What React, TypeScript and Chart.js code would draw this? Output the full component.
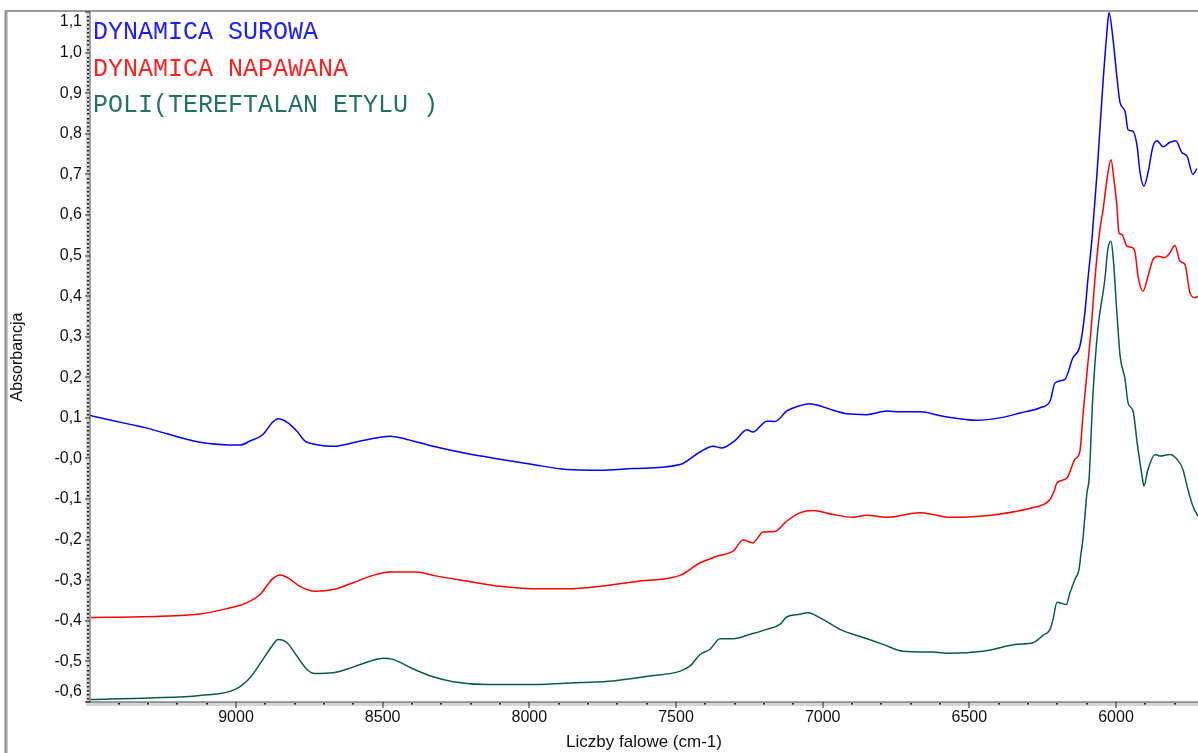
import React, { useEffect, useRef } from 'react';
import { Chart, registerables } from 'chart.js';

Chart.register(...registerables);

// Absorbance spectra (wavenumber cm-1, absorbance)
const surowa: [number, number][] = [
  [9498, 0.106], [9361, 0.084], [9310, 0.076], [9123, 0.040], [8986, 0.033],
  [8952, 0.043], [8908, 0.059], [8877, 0.088], [8857, 0.098], [8823, 0.088],
  [8792, 0.067], [8765, 0.043], [8724, 0.034], [8669, 0.030], [8611, 0.037],
  [8543, 0.048], [8475, 0.055], [8417, 0.047], [8328, 0.030], [8213, 0.012],
  [8100, -0.002], [7988, -0.015], [7872, -0.027], [7759, -0.029], [7647, -0.025],
  [7486, -0.015], [7418, 0.016], [7374, 0.030], [7343, 0.026], [7299, 0.044],
  [7258, 0.071], [7238, 0.065], [7190, 0.092], [7163, 0.091], [7122, 0.117],
  [7078, 0.130], [7044, 0.135], [7010, 0.130], [6965, 0.119], [6917, 0.110],
  [6849, 0.108], [6781, 0.117], [6736, 0.115], [6668, 0.115], [6590, 0.104],
  [6474, 0.094], [6396, 0.100], [6327, 0.112], [6259, 0.125], [6225, 0.141],
  [6208, 0.186], [6174, 0.195], [6147, 0.248], [6123, 0.277], [6106, 0.36],
  [6096, 0.44], [6082, 0.54], [6065, 0.70], [6055, 0.81], [6044, 0.93],
  [6031, 1.05], [6024, 1.098], [6010, 1.032], [5997, 0.94], [5986, 0.876],
  [5969, 0.855], [5959, 0.81], [5942, 0.806], [5928, 0.769], [5918, 0.704],
  [5905, 0.671], [5891, 0.704], [5874, 0.769], [5860, 0.783], [5840, 0.768],
  [5816, 0.779], [5796, 0.783], [5775, 0.753], [5758, 0.745], [5738, 0.70],
  [5724, 0.714],
];

const napawana: [number, number][] = [
  [9495, -0.392], [9327, -0.390], [9123, -0.383], [9031, -0.370], [8962, -0.355],
  [8918, -0.335], [8877, -0.298], [8850, -0.287], [8823, -0.294], [8782, -0.315],
  [8731, -0.327], [8669, -0.323], [8601, -0.306], [8533, -0.288], [8475, -0.280],
  [8383, -0.280], [8328, -0.288], [8213, -0.302], [8100, -0.315], [7988, -0.321],
  [7872, -0.321], [7759, -0.315], [7623, -0.302], [7486, -0.288], [7418, -0.257],
  [7360, -0.241], [7305, -0.228], [7271, -0.201], [7238, -0.208], [7203, -0.181],
  [7163, -0.180], [7122, -0.154], [7078, -0.134], [7033, -0.128], [6965, -0.138],
  [6897, -0.145], [6849, -0.140], [6781, -0.145], [6668, -0.134], [6624, -0.138],
  [6566, -0.145], [6454, -0.142], [6338, -0.130], [6283, -0.121], [6225, -0.101],
  [6211, -0.080], [6201, -0.060], [6167, -0.048], [6140, -0.002], [6123, 0.018],
  [6113, 0.104], [6099, 0.211], [6085, 0.318], [6072, 0.441], [6055, 0.564],
  [6044, 0.613], [6031, 0.687], [6017, 0.736], [6007, 0.687], [5997, 0.622],
  [5990, 0.556], [5980, 0.552], [5963, 0.523], [5946, 0.520], [5935, 0.507],
  [5925, 0.449], [5908, 0.412], [5891, 0.449], [5874, 0.490], [5857, 0.498],
  [5833, 0.495], [5816, 0.507], [5799, 0.525], [5782, 0.486], [5765, 0.478],
  [5748, 0.408], [5731, 0.396], [5721, 0.400],
];

const poliTereftalan: [number, number][] = [
  [9495, -0.594], [9293, -0.590], [9123, -0.584], [9003, -0.569], [8952, -0.540],
  [8908, -0.495], [8877, -0.462], [8857, -0.446], [8826, -0.454], [8792, -0.487],
  [8758, -0.520], [8731, -0.530], [8669, -0.528], [8601, -0.514], [8533, -0.497],
  [8499, -0.492], [8465, -0.495], [8397, -0.518], [8328, -0.538], [8260, -0.550],
  [8144, -0.557], [7988, -0.557], [7827, -0.552], [7715, -0.548], [7589, -0.536],
  [7486, -0.524], [7452, -0.511], [7418, -0.483], [7384, -0.470], [7350, -0.444],
  [7305, -0.444], [7247, -0.433], [7190, -0.421], [7146, -0.409], [7122, -0.390],
  [7078, -0.384], [7051, -0.380], [7010, -0.392], [6941, -0.421], [6849, -0.444],
  [6794, -0.458], [6726, -0.475], [6624, -0.477], [6566, -0.480], [6454, -0.475],
  [6338, -0.458], [6283, -0.454], [6249, -0.436], [6225, -0.421], [6215, -0.397],
  [6201, -0.354], [6184, -0.357], [6170, -0.360], [6157, -0.331], [6140, -0.298],
  [6126, -0.273], [6119, -0.232], [6113, -0.200], [6106, -0.142], [6099, -0.084],
  [6092, -0.052], [6079, 0.153], [6062, 0.318], [6038, 0.441], [6028, 0.515],
  [6017, 0.535], [6010, 0.498], [5997, 0.359], [5986, 0.252], [5969, 0.195],
  [5959, 0.137], [5942, 0.117], [5928, 0.039], [5911, -0.044], [5905, -0.068],
  [5891, -0.027], [5867, 0.010], [5850, 0.006], [5816, 0.010], [5792, -0.002],
  [5772, -0.027], [5755, -0.076], [5738, -0.117], [5721, -0.142],
];

const seriesNames = ['DYNAMICA SUROWA', 'DYNAMICA NAPAWANA', 'POLI(TEREFTALAN ETYLU )'];
const lineColors = ['#0000ff', '#ff0000', '#0b5a4c'];
const legendColors = ['#2020ff', '#ff2222', '#237264'];

const xTickValues = [9000, 8500, 8000, 7500, 7000, 6500, 6000];
const xTickLabels = ['9000', '8500', '8000', '7500', '7000', '6500', '6000'];
const yTickValues = [-0.6, -0.5, -0.4, -0.3, -0.2, -0.1, 0, 0.1, 0.2, 0.3, 0.4, 0.5, 0.6, 0.7, 0.8, 0.9, 1.0, 1.1];
const yTickLabels = ['-0,6', '-0,5', '-0,4', '-0,3', '-0,2', '-0,1', '-0,0', '0,1', '0,2', '0,3', '0,4', '0,5', '0,6', '0,7', '0,8', '0,9', '1,0', '1,1'];

const xRange = { min: 5720.5, max: 9497.7 };
const yRange = { min: -0.6, max: 1.1 };

const xTitle = 'Liczby falowe (cm-1)';
const yTitle = 'Absorbancja';

// Frame, axis bands, tick marks, y labels and the text legend
const decorPlugin = {
  id: 'spectrumDecor',
  afterDraw(chart: any) {
    const { ctx, chartArea } = chart;
    const { left, right, top, bottom } = chartArea;
    const xs = chart.scales.x;
    const ys = chart.scales.y;
    ctx.save();

    // outer frame
    ctx.fillStyle = '#c9c9c9';
    ctx.fillRect(4, 10, 4, 753 - 10);
    ctx.fillStyle = '#8a8a8a';
    ctx.fillRect(5, 10, 1.5, 753 - 10);
    ctx.fillStyle = '#9a9a9a';
    ctx.fillRect(5, 10, right - 5, 2);

    // axis bands
    ctx.fillStyle = '#d6d6d6';
    ctx.fillRect(left - 4, top, 4, bottom - top + 4);
    ctx.fillRect(left - 4, bottom, right - left + 4, 4);

    // axis lines
    ctx.fillStyle = '#4a4a4a';
    ctx.fillRect(left - 0.5, top, 1, bottom - top + 1);
    ctx.fillRect(left - 4, bottom - 0.5, right - left + 4, 1);

    // y minor dots every 0.01
    ctx.fillStyle = '#222';
    for (let i = -60; i <= 110; i++) {
      const py = Math.round(ys.getPixelForValue(i / 100));
      if (i % 10 === 0) {
        ctx.fillRect(left - 5, py - 0.5, 5, 1);
      } else {
        ctx.fillRect(left - 3, py, 2, 1.5);
      }
    }
    // x minor dots every 100
    for (let w = 5800; w <= 9400; w += 100) {
      const px = Math.round(xs.getPixelForValue(w));
      if (w % 500 === 0) {
        ctx.fillRect(px - 0.5, bottom, 1, 6);
      } else {
        ctx.fillRect(px - 1, bottom + 1, 2, 1.5);
      }
    }

    // y tick labels, kept inside the axis span
    ctx.font = '16px "Liberation Sans", Arial, sans-serif';
    ctx.fillStyle = '#111';
    ctx.textAlign = 'right';
    ctx.textBaseline = 'middle';
    yTickValues.forEach((v, i) => {
      const py = ys.getPixelForValue(v);
      const cy = Math.min(Math.max(py, top + 10), bottom - 10);
      ctx.fillText(yTickLabels[i], left - 8, cy);
    });

    // legend as coloured text
    ctx.font = '25px "Liberation Mono", "Courier New", monospace';
    ctx.textAlign = 'left';
    ctx.textBaseline = 'alphabetic';
    const baselines = [39, 76, 112];
    seriesNames.forEach((name, i) => {
      ctx.fillStyle = legendColors[i];
      ctx.fillText(name, left + 3, baselines[i]);
    });

    ctx.restore();
  },
};

export default function App() {
  const canvasRef = useRef<HTMLCanvasElement | null>(null);

  useEffect(() => {
    const canvas = canvasRef.current;
    if (!canvas) return;
    const toPoints = (s: [number, number][]) => s.map(([x, y]) => ({ x, y }));
    const chart = new Chart(canvas, {
      type: 'line',
      data: {
        datasets: [surowa, napawana, poliTereftalan].map((s, i) => ({
          label: seriesNames[i],
          data: toPoints(s),
          borderColor: lineColors[i],
          backgroundColor: lineColors[i],
          borderWidth: 1.5,
          pointRadius: 0,
          cubicInterpolationMode: 'monotone' as const,
          fill: false,
        })),
      },
      options: {
        animation: false,
        responsive: false,
        devicePixelRatio: 1,
        layout: { padding: { top: 12, left: 0, right: 0, bottom: 0 } },
        plugins: {
          legend: { display: false },
          tooltip: { enabled: false },
        },
        scales: {
          x: {
            type: 'linear',
            reverse: true,
            min: xRange.min,
            max: xRange.max,
            grid: { display: false, drawTicks: false },
            border: { display: false },
            afterBuildTicks: (scale: any) => {
              scale.ticks = xTickValues.map((value) => ({ value }));
            },
            afterFit: (scale: any) => {
              scale.height = 51;
            },
            ticks: {
              autoSkip: false,
              maxRotation: 0,
              padding: 6,
              color: '#111',
              font: { family: '"Liberation Sans", Arial, sans-serif', size: 16 },
              callback: (value: any) => {
                const idx = xTickValues.indexOf(Number(value));
                return idx >= 0 ? xTickLabels[idx] : '';
              },
            },
            title: {
              display: true,
              text: xTitle,
              color: '#111',
              padding: { top: 0, bottom: 0 },
              font: { family: '"Liberation Sans", Arial, sans-serif', size: 17 },
            },
          },
          y: {
            type: 'linear',
            min: yRange.min,
            max: yRange.max,
            grid: { display: false, drawTicks: false },
            border: { display: false },
            afterBuildTicks: (scale: any) => {
              scale.ticks = yTickValues.map((value) => ({ value }));
            },
            afterFit: (scale: any) => {
              scale.width = 90;
            },
            ticks: { display: false },
            title: {
              display: true,
              text: yTitle,
              color: '#111',
              padding: { top: 8, bottom: 0 },
              font: { family: '"Liberation Sans", Arial, sans-serif', size: 16 },
            },
          },
        },
      },
      plugins: [decorPlugin],
    });
    return () => chart.destroy();
  }, []);

  return (
    <div style={{ position: 'absolute', left: 0, top: 0, width: 1198, height: 753, background: '#fff' }}>
      <canvas ref={canvasRef} width={1198} height={753} style={{ display: 'block', width: 1198, height: 753 }} />
    </div>
  );
}
